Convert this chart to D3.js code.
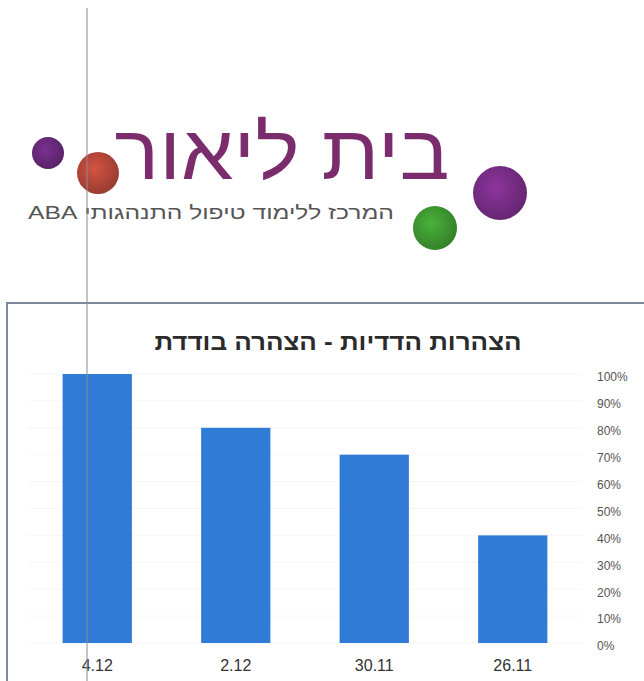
<!doctype html>
<html>

<head>
    <meta charset="utf-8">
    <title>B</title>
    <style>
    body {
        margin: 0;
        background: #fff;
    }
    </style>
    <script src="https://cdnjs.cloudflare.com/ajax/libs/d3/7.8.5/d3.min.js"></script>
</head>

<body>
    <script>
    // chart data (order as printed, left to right)
    var categories = ["4.12", "2.12", "30.11", "26.11"];
    var values = [100, 80, 70, 40];
    var yTicks = [0, 10, 20, 30, 40, 50, 60, 70, 80, 90, 100];
    var chartTitle = "הצהרות הדדיות - הצהרה בודדת";
    var logoTitle = "בית ליאור";
    var logoSub = "המרכז ללימוד טיפול התנהגותי ABA";

    var w = 644,
        h = 681;

    var svg = d3.select("body").append("svg")
        .attr("width", w)
        .attr("height", h);

    // logo balls
    var balls = [
        { x: 48, y: 153, r: 16, c: "#6a2a7e" },
        { x: 98, y: 173, r: 21, c: "#b8483a" },
        { x: 500, y: 193, r: 27, c: "#7a2e88" },
        { x: 435, y: 228, r: 22, c: "#3f9a32" }
    ];
    var defs = svg.append("defs");
    balls.forEach(function(b, i) {
        var g = defs.append("radialGradient").attr("id", "g" + i)
            .attr("cx", "42%").attr("cy", "40%").attr("r", "60%");
        g.append("stop").attr("offset", "0%").attr("stop-color", d3.color(b.c).brighter(0.4));
        g.append("stop").attr("offset", "100%").attr("stop-color", d3.color(b.c).darker(0.5));
    });
    svg.selectAll("circle.ball")
        .data(balls)
        .enter().append("circle")
        .attr("class", "ball")
        .attr("cx", function(d) { return d.x; })
        .attr("cy", function(d) { return d.y; })
        .attr("r", function(d) { return d.r; })
        .style("fill", function(d, i) { return "url(#g" + i + ")"; });

    svg.append("text")
        .attr("x", 282).attr("y", 179)
        .attr("direction", "rtl")
        .attr("text-anchor", "middle")
        .attr("textLength", 335)
        .attr("lengthAdjust", "spacingAndGlyphs")
        .style("font-family", "'Noto Sans', 'DejaVu Sans', sans-serif")
        .style("font-weight", 300)
        .style("font-size", "76px")
        .style("fill", "#7b2c6c")
        .text(logoTitle);

    svg.append("text")
        .attr("x", 211).attr("y", 219)
        .attr("direction", "rtl")
        .attr("text-anchor", "middle")
        .attr("textLength", 366)
        .attr("lengthAdjust", "spacingAndGlyphs")
        .style("font-family", "'Liberation Sans', Arial, sans-serif")
        .style("font-size", "19px")
        .style("fill", "#555")
        .text(logoSub);

    // chart
    var x = d3.scaleBand()
        .domain(categories)
        .range([28, 582])
        .paddingInner(0.5)
        .paddingOuter(0.25);

    var y = d3.scaleLinear()
        .domain([0, 100])
        .range([643, 374]);

    // frame
    svg.append("path")
        .attr("d", "M7," + h + "V303H" + w)
        .style("fill", "none")
        .style("stroke", "#7f8a9a")
        .style("stroke-width", 2);

    svg.append("text")
        .attr("x", 338).attr("y", 350)
        .attr("direction", "rtl")
        .attr("text-anchor", "middle")
        .attr("textLength", 367)
        .attr("lengthAdjust", "spacingAndGlyphs")
        .style("font-family", "'Liberation Sans', Arial, sans-serif")
        .style("font-weight", "bold")
        .style("font-size", "23px")
        .style("fill", "#2b2b2b")
        .text(chartTitle);

    // faint gridlines
    svg.append("g")
        .selectAll("line")
        .data(yTicks)
        .enter().append("line")
        .attr("x1", 28).attr("x2", 582)
        .attr("y1", function(d) { return y(d); })
        .attr("y2", function(d) { return y(d); })
        .style("stroke", "#f6f6f6");

    svg.append("g")
        .selectAll("rect")
        .data(values)
        .enter().append("rect")
        .attr("x", function(d, i) { return x(categories[i]); })
        .attr("width", x.bandwidth())
        .attr("y", function(d) { return y(d); })
        .attr("height", function(d) { return y(0) - y(d); })
        .style("fill", "#2f7bd5");

    var yAxis = svg.append("g")
        .attr("transform", "translate(594,3)")
        .call(d3.axisRight(y).tickValues(yTicks).tickSize(0).tickFormat(function(d) { return d + "%"; }));
    yAxis.select(".domain").remove();
    yAxis.selectAll("text")
        .style("font-family", "'Liberation Sans', Arial, sans-serif")
        .style("font-size", "12px")
        .style("fill", "#555");

    var xAxis = svg.append("g")
        .attr("transform", "translate(0," + y(0) + ")")
        .call(d3.axisBottom(x).tickSize(0).tickPadding(17));
    xAxis.select(".domain").remove();
    xAxis.selectAll("text")
        .style("font-family", "'Liberation Sans', Arial, sans-serif")
        .style("font-size", "16px")
        .style("fill", "#333");

    // scan line across the page
    svg.append("line")
        .attr("x1", 87).attr("x2", 87)
        .attr("y1", 8).attr("y2", h)
        .style("stroke", "#8c8c8c")
        .style("stroke-width", 1);
    </script>
</body>

</html>
